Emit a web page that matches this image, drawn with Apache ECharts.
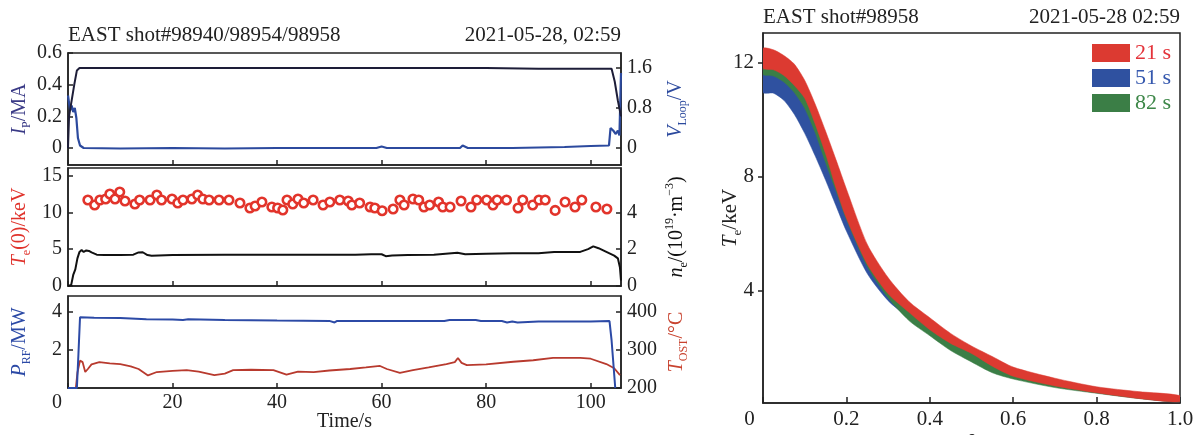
<!DOCTYPE html>
<html><head><meta charset="utf-8">
<script src="https://cdn.jsdelivr.net/npm/echarts@6/dist/echarts.min.js"></script>
<style>html,body{margin:0;padding:0;background:#fff}#c{width:1199px;height:435px}</style>
</head><body><div id="c"></div>
<script>
// ---------------- data: left panel (time traces) ----------------
const timeTicks = [0, 20, 40, 60, 80, 100];
const ipTicks = [0, 0.2, 0.4, 0.6];
const vTicks = [0, 0.8, 1.6];
const teTicks = [0, 5, 10, 15];
const neTicks = [0, 2, 4];
const prfTicks = [2, 4];
const tostTicks = [200, 300, 400];

const ipT = [0, 0.2, 0.6, 1.2, 1.7, 2.2, 10, 20, 30, 40, 50, 60, 70, 80, 90, 100, 104.0, 104.6, 105.2, 105.8];
const ipV = [0, 0.2, 0.28, 0.4, 0.49, 0.505, 0.505, 0.505, 0.505, 0.505, 0.505, 0.505, 0.505, 0.505, 0.5, 0.5, 0.5, 0.42, 0.3, 0.2];

const vT = [0, 0.2, 0.4, 0.7, 1.0, 1.3, 1.6, 1.9, 2.3, 3, 10, 20, 30, 40, 50, 59, 60, 61, 70, 75, 75.5, 76.5, 85, 95, 100, 103.5, 103.8, 104.3, 104.8, 105.2, 105.5, 105.8];
const vV = [1.05, 0.9, 0.75, 0.85, 0.72, 0.8, 0.6, 0.2, 0.05, 0.0, -0.01, 0.0, -0.01, 0.0, 0.0, 0.0, 0.03, 0.0, 0.0, 0.0, 0.05, 0.0, 0.0, 0.02, 0.04, 0.05, 0.4, 0.35, 0.28, 0.35, 0.25, 1.5];

const tTe = [3.8, 5.1, 6.1, 7.2, 8.0, 9.0, 9.9, 10.9, 12.8, 13.7, 15.7, 17.0, 17.9, 19.9, 21.0, 22.0, 23.7, 24.8, 25.8, 27.0, 28.9, 30.8, 32.9, 34.8, 35.8, 37.1, 39.0, 40.1, 41.1, 41.9, 43.0, 44.0, 45.1, 46.9, 48.8, 50.1, 52.0, 53.6, 54.3, 55.8, 57.8, 58.7, 60.1, 62.2, 63.5, 64.3, 66.0, 67.1, 68.1, 69.2, 70.9, 71.7, 73.1, 75.2, 77.1, 78.2, 80.1, 81.3, 82.1, 83.9, 86.1, 87.0, 88.9, 90.1, 91.3, 93.2, 95.1, 97.0, 98.3, 101.0, 103.1];
const Te0 = [11.66, 10.98, 11.66, 11.8, 12.47, 11.8, 12.75, 11.53, 11.12, 11.66, 11.66, 12.34, 11.66, 11.8, 11.25, 11.66, 11.8, 12.34, 11.8, 11.66, 11.66, 11.66, 11.25, 10.58, 10.85, 11.39, 10.71, 10.58, 10.3, 11.66, 11.12, 11.8, 11.25, 11.66, 10.98, 11.39, 11.66, 11.53, 10.98, 11.25, 10.71, 10.58, 10.2, 10.44, 11.66, 10.98, 11.8, 11.66, 10.71, 10.98, 11.39, 10.71, 10.71, 11.53, 10.71, 11.66, 11.66, 10.98, 11.66, 11.66, 10.58, 11.66, 10.98, 11.66, 11.66, 10.25, 11.39, 10.71, 11.66, 10.71, 10.44];

const neT = [0, 0.6, 1.0, 1.4, 1.8, 2.2, 2.6, 3.0, 3.5, 4.0, 4.5, 5.5, 7, 10, 12.5, 13.5, 14.3, 15.2, 16, 20, 30, 40, 50, 55, 58, 60, 60.8, 62, 65, 70, 74.5, 76, 80, 85, 90, 93, 98, 99.5, 100.5, 101.5, 103, 104.5, 105.2, 105.6, 105.8];
const neV = [0, 0.05, 0.6, 0.9, 1.5, 1.85, 1.95, 1.85, 1.93, 1.9, 1.82, 1.7, 1.68, 1.68, 1.7, 1.82, 1.83, 1.68, 1.64, 1.68, 1.7, 1.7, 1.7, 1.7, 1.72, 1.72, 1.62, 1.65, 1.68, 1.7, 1.8, 1.72, 1.75, 1.78, 1.78, 1.85, 1.85, 2.0, 2.15, 2.05, 1.85, 1.65, 1.5, 1.0, 0.3];

const prfT = [0, 1.7, 2.0, 2.3, 5, 10, 15, 20, 22, 23, 30, 40, 50, 51, 51.5, 60, 72, 73, 78, 79, 83, 84, 85, 86, 90, 100, 103.6, 104.0, 104.7];
const prfV = [0, 0, 1.8, 3.72, 3.7, 3.68, 3.62, 3.6, 3.58, 3.62, 3.58, 3.55, 3.53, 3.45, 3.53, 3.53, 3.53, 3.58, 3.58, 3.52, 3.52, 3.45, 3.5, 3.45, 3.5, 3.5, 3.52, 2.5, 0];

const tostT = [1.5, 1.8, 2.3, 2.8, 3.3, 3.8, 4.5, 6, 8, 10, 12, 13.5, 15.3, 17, 20, 22.7, 25, 28, 30, 31.6, 35, 39.3, 41.8, 44, 47, 50, 54, 57, 59.7, 61, 63.5, 66, 69, 72.4, 74, 74.6, 75.3, 76.3, 80, 85.2, 89, 92.8, 95, 98, 100, 103, 104.5, 105.6];
const tostV = [200, 240, 272, 268, 242, 250, 262, 268, 265, 263, 257, 250, 233, 242, 245, 247, 243, 234, 238, 247, 248, 247, 235, 243, 242, 246, 250, 254, 258, 250, 240, 247, 254, 263, 268, 279, 266, 260, 262, 269, 273, 279, 279, 279, 277, 263, 252, 234];

// ---------------- data: right panel (Te profiles) ----------------
const rhoTicks = [0, 0.2, 0.4, 0.6, 0.8, 1.0];
const teProfTicks = [4, 8, 12];
const rho =     [0,     0.025, 0.05,  0.075, 0.1,   0.125, 0.15, 0.175, 0.2,  0.25, 0.3,  0.35, 0.4,  0.45, 0.5,  0.55, 0.6,  0.7,  0.8,  0.9,  1.0];
const redHi =   [12.5,  12.45, 12.25, 11.95, 11.38, 10.55, 9.6,  8.6,   7.57, 5.63, 4.46, 3.62, 3.05, 2.5,  2.06, 1.69, 1.32, 0.93, 0.63, 0.46, 0.32];
const redLo =   [11.8,  11.75, 11.55, 11.2,  10.75, 9.85,  8.8,  7.6,   6.54, 4.93, 3.89, 3.24, 2.63, 2.15, 1.8,  1.35, 1.0,  0.66, 0.42, 0.22, 0.1];
const blueHi =  [11.65, 11.6,  11.4,  11.0,  10.45, 9.7,   8.9,  7.95,  7.0,  5.3,  4.2,  3.45, 2.9,  2.4,  2.0,  1.6,  1.25, 0.88, 0.6,  0.42, 0.28];
const blueLo =  [10.95, 10.93, 10.68, 10.19, 9.52,  8.73,  7.88, 6.98,  6.09, 4.6,  3.65, 3.05, 2.55, 2.1,  1.7,  1.33, 1.0,  0.65, 0.42, 0.23, 0.1];
const greenHi = [11.95, 11.9,  11.7,  11.35, 10.85, 10.05, 9.1,  8.1,   7.1,  5.4,  4.3,  3.45, 2.85, 2.3,  1.9,  1.5,  1.2,  0.85, 0.58, 0.4,  0.28];
const greenLo = [11.58, 11.53, 11.32, 10.95, 10.4,  9.55,  8.5,  7.5,   6.5,  4.85, 3.75, 2.95, 2.42, 1.9,  1.5,  1.12, 0.9,  0.6,  0.4,  0.22, 0.1];
const bandNames = ['21 s', '51 s', '82 s'];

// ---------------- helpers ----------------
const FONT = '"Liberation Serif","Times New Roman",serif';
const AX = '#222';
const zip = (a, b) => a.map((v, i) => [v, b[i]]);

function nameRich(color, size) {
  return {
    i: {fontFamily: FONT, fontSize: size, fontStyle: 'italic', color},
    n: {fontFamily: FONT, fontSize: size, color},
    s: {fontFamily: FONT, fontSize: Math.round(size * 0.62), color, verticalAlign: 'bottom', padding: [0, 0, -3, 0]},
    p: {fontFamily: FONT, fontSize: Math.round(size * 0.62), color, verticalAlign: 'top', padding: [-3, 0, 0, 0]}
  };
}

function xAx(grid, showLabel) {
  return {
    type: 'value', gridIndex: grid, min: 0, max: 105.8,
    axisLine: {show: true, onZero: false, lineStyle: {color: AX, width: 1.5}},
    axisTick: {show: true, inside: true, length: 5, lineStyle: {color: AX, width: 1.5}, customValues: timeTicks},
    axisLabel: {
      show: showLabel, customValues: timeTicks, margin: 5,
      fontFamily: FONT, fontSize: 20, color: AX,
      formatter: v => v === 0 ? '{z|0}' : String(v),
      rich: {z: {fontFamily: FONT, fontSize: 20, color: AX, padding: [0, 22, 0, 0]}}
    },
    splitLine: {show: false},
    name: showLabel ? 'Time/s' : '', nameLocation: 'middle', nameGap: 24, nameMoveOverlap: false,
    nameTextStyle: {fontFamily: FONT, fontSize: 20, color: AX}
  };
}

function yAx(grid, pos, min, max, ticks, name, color, gap, fmt) {
  return {
    type: 'value', gridIndex: grid, position: pos, min, max,
    axisLine: {show: true, onZero: false, lineStyle: {color: AX, width: 1.5}},
    axisTick: {show: true, inside: true, length: 5, lineStyle: {color: AX, width: 1.5}, customValues: ticks},
    axisLabel: {customValues: ticks, margin: 6, fontFamily: FONT, fontSize: 20, color: AX, formatter: fmt || (v => String(v))},
    splitLine: {show: false},
    name, nameLocation: 'middle', nameRotate: 90, nameGap: gap, nameMoveOverlap: false,
    nameTextStyle: {rich: nameRich(color, 20)}
  };
}

const C_IP = '#3a3a86', C_V = '#2c4a9e', C_TE = '#e0322b', C_NE = '#111', C_PRF = '#2c4aa6', C_TOST = '#c8432f';
const RED = '#dc3a31', BLUE = '#2f51a0', GREEN = '#3b7e46';

// one filled band per time slice, drawn through the axis scales (api.coord)
function bandSeries(lo, hi, col, nm) {
  return {
    type: 'custom', name: nm, xAxisIndex: 3, yAxisIndex: 6, clip: true, silent: true,
    itemStyle: {color: col},
    data: rho.map((r, i) => [r, lo[i], hi[i]]),
    encode: {x: 0, y: [1, 2]},
    renderItem: function (params, api) {
      if (params.dataIndex !== 0) return null;
      const pts = [];
      for (let i = 0; i < rho.length; i++) pts.push(api.coord([rho[i], hi[i]]));
      for (let i = rho.length - 1; i >= 0; i--) pts.push(api.coord([rho[i], lo[i]]));
      return {
        type: 'polygon',
        shape: {points: pts, smooth: 0.25},
        style: {fill: col, stroke: col, lineWidth: 0.5}
      };
    }
  };
}

const gridBase = {show: true, borderColor: AX, borderWidth: 1.5, containLabel: false, outerBoundsMode: 'none'};

const option = {
  animation: false,
  backgroundColor: '#fff',
  title: [
    {text: 'EAST shot#98940/98954/98958', left: 68, top: 25, padding: 0, textStyle: {fontFamily: FONT, fontSize: 21, fontWeight: 'normal', color: AX}},
    {text: '2021-05-28, 02:59', right: 578, top: 25, padding: 0, textStyle: {fontFamily: FONT, fontSize: 21, fontWeight: 'normal', color: AX}},
    {text: 'EAST shot#98958', left: 763, top: 7, padding: 0, textStyle: {fontFamily: FONT, fontSize: 21, fontWeight: 'normal', color: AX}},
    {text: '2021-05-28 02:59', right: 19, top: 7, padding: 0, textStyle: {fontFamily: FONT, fontSize: 21, fontWeight: 'normal', color: AX}}
  ],
  legend: {
    left: 1092, top: 42, orient: 'vertical', icon: 'rect', itemWidth: 38, itemHeight: 18, itemGap: 3,
    selectedMode: false, padding: 0,
    textStyle: {fontFamily: FONT, fontSize: 22, lineHeight: 18},
    data: [
      {name: bandNames[0], itemStyle: {color: RED}, textStyle: {color: '#e4333a'}},
      {name: bandNames[1], itemStyle: {color: BLUE}, textStyle: {color: '#3558ae'}},
      {name: bandNames[2], itemStyle: {color: GREEN}, textStyle: {color: '#3d8748'}}
    ]
  },
  grid: [
    Object.assign({left: 68, top: 53, width: 553, height: 112}, gridBase),
    Object.assign({left: 68, top: 168, width: 553, height: 118}, gridBase),
    Object.assign({left: 68, top: 296, width: 553, height: 92}, gridBase),
    Object.assign({left: 763, top: 33, width: 417, height: 370}, gridBase)
  ],
  xAxis: [
    xAx(0, false), xAx(1, false), xAx(2, true),
    {
      type: 'value', gridIndex: 3, min: 0, max: 1,
      axisLine: {show: true, onZero: false, lineStyle: {color: AX, width: 1.5}},
      axisTick: {show: true, inside: true, length: 6, lineStyle: {color: AX, width: 1.5}, customValues: rhoTicks},
      axisLabel: {
        customValues: rhoTicks, margin: 6, fontFamily: FONT, fontSize: 21, color: AX,
        formatter: v => v === 0 ? '{z|0}' : v.toFixed(1),
        rich: {z: {fontFamily: FONT, fontSize: 21, color: AX, padding: [0, 27, 0, 0]}}
      },
      splitLine: {show: false},
      name: '{i|ρ}', nameLocation: 'middle', nameGap: 25, nameMoveOverlap: false,
      nameTextStyle: {rich: nameRich(AX, 21)}
    }
  ],
  yAxis: [
    yAx(0, 'left', -0.107, 0.6, ipTicks, '{i|I}{s|P}{n|/MA}', C_IP, 38, v => v === 0 ? '0' : v.toFixed(1)),
    yAx(0, 'right', -0.34, 1.9, vTicks, '{i|V}{s|Loop}{n|/V}', C_V, 45, v => v === 0 ? '0' : v.toFixed(1)),
    yAx(1, 'left', 0, 16, teTicks, '{i|T}{s|e}{n|(0)/keV}', C_TE, 38),
    yAx(1, 'right', 0, 6.4, neTicks, '{i|n}{s|e}{n|/(10}{p|19}{n|·m}{p|−3}{n|)}', C_NE, 46),
    yAx(2, 'left', 0, 4.84, prfTicks, '{i|P}{s|RF}{n|/MW}', C_PRF, 38),
    yAx(2, 'right', 200, 442, tostTicks, '{i|T}{s|OST}{n|/°C}', C_TOST, 46),
    {
      type: 'value', gridIndex: 3, position: 'left', min: 0.06, max: 13.04,
      axisLine: {show: true, onZero: false, lineStyle: {color: AX, width: 1.5}},
      axisTick: {show: true, inside: false, length: 5, lineStyle: {color: AX, width: 1.5}, customValues: teProfTicks},
      axisLabel: {customValues: teProfTicks, margin: 9, fontFamily: FONT, fontSize: 21, color: AX},
      splitLine: {show: false},
      name: '{i|T}{s|e}{n|/keV}', nameLocation: 'middle', nameRotate: 90, nameGap: 22, nameMoveOverlap: false,
      nameTextStyle: {rich: nameRich(AX, 21)}
    }
  ],
  series: [
    {type: 'line', xAxisIndex: 0, yAxisIndex: 1, data: zip(vT, vV), showSymbol: false, color: C_V, lineStyle: {color: C_V, width: 2.2}},
    {type: 'line', xAxisIndex: 0, yAxisIndex: 0, data: zip(ipT, ipV), showSymbol: false, color: '#1d1d38', lineStyle: {color: '#1d1d38', width: 2}},
    {type: 'line', xAxisIndex: 1, yAxisIndex: 3, data: zip(neT, neV), showSymbol: false, color: C_NE, lineStyle: {color: C_NE, width: 2}},
    {type: 'scatter', xAxisIndex: 1, yAxisIndex: 2, data: zip(tTe, Te0), symbol: 'circle', symbolSize: 8.5,
     itemStyle: {color: '#fff', borderColor: '#e2342b', borderWidth: 2.6, opacity: 1}},
    {type: 'line', xAxisIndex: 2, yAxisIndex: 5, data: zip(tostT, tostV), showSymbol: false, color: '#b83a2e', lineStyle: {color: '#b83a2e', width: 1.8}},
    {type: 'line', xAxisIndex: 2, yAxisIndex: 4, data: zip(prfT, prfV), showSymbol: false, color: C_PRF, lineStyle: {color: C_PRF, width: 2}},
    bandSeries(blueLo, blueHi, BLUE, bandNames[1]),
    bandSeries(greenLo, greenHi, GREEN, bandNames[2]),
    bandSeries(redLo, redHi, RED, bandNames[0])
  ]
};

const chart = echarts.init(document.getElementById('c'), null, {renderer: 'canvas'});
chart.setOption(option);
</script>
</body></html>
